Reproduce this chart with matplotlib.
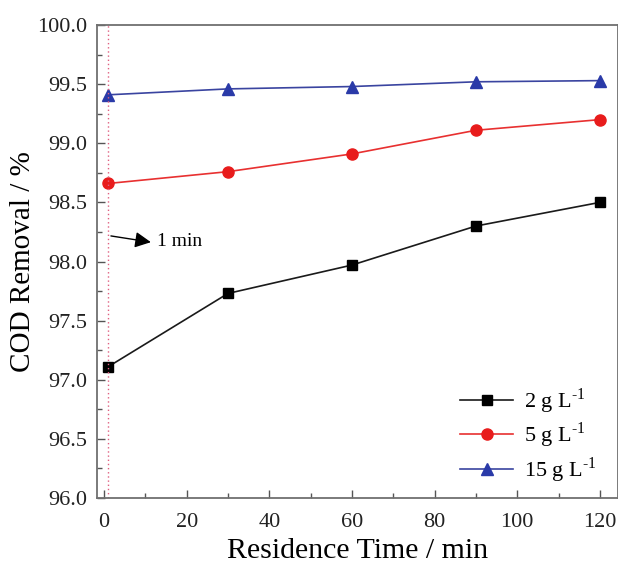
import numpy as np
import matplotlib.pyplot as plt

plt.rcParams['font.family'] = ['Liberation Serif', 'DejaVu Serif']
plt.rcParams['mathtext.fontset'] = 'custom'
plt.rcParams['mathtext.rm'] = 'Liberation Serif'

# residence time (min) and COD removal (%) for each sludge concentration
time_min = [1, 30, 60, 90, 120]
cod_2 = [97.11, 97.73, 97.97, 98.30, 98.50]
cod_5 = [98.66, 98.76, 98.91, 99.11, 99.20]
cod_15 = [99.41, 99.46, 99.48, 99.52, 99.53]
labels = ['2 g L$^{\\text{-1}}$', '5 g L$^{\\text{-1}}$', '15 g L$^{\\text{-1}}$']

fig = plt.figure(figsize=(6.18, 5.63), dpi=100)
ax = fig.add_axes([0.157, 0.1155, 0.843, 0.840])

ax.plot(time_min, cod_2, '-s', color='#1a1a1a', mfc='black', mec='black', ms=7, lw=1.2, label=labels[0])
ax.plot(time_min, cod_5, '-o', color='#e83030', mfc='#e81c1c', mec='#e81c1c', ms=8, lw=1.2, label=labels[1])
ax.plot(time_min, cod_15, '-^', color='#3a44a0', mfc='#2a3aa8', mec='#2a3aa8', ms=8, lw=1.2, label=labels[2])

ax.axvline(1, color='#e06080', ls=(0, (1, 2)), lw=1.0)
ax.annotate('', xy=(12, 98.16), xytext=(1, 98.22),
            arrowprops=dict(arrowstyle='-|>', color='black', lw=1.0, mutation_scale=24))
ax.text(12.8, 98.17, '1 min', fontsize=14, va='center', ha='left')

ax.set_xlim(-1.7, 124.4)
ax.set_ylim(96.0, 100.0)
ax.set_xticks(np.arange(0, 121, 20))
ax.set_xticks(np.arange(10, 121, 20), minor=True)
ax.set_yticks(np.arange(96.0, 100.01, 0.5))
ax.set_yticks(np.arange(96.25, 100.0, 0.5), minor=True)
ax.set_yticklabels(['%.1f' % v for v in np.arange(96.0, 100.01, 0.5)])
ax.tick_params(direction='in', labelsize=16, length=6, width=1, pad=7,
               colors='#555555', labelcolor='#222222')
ax.tick_params(axis='x', pad=11)
ax.tick_params(which='minor', direction='in', length=3.5, width=1, colors='#555555')
for s in ax.spines.values():
    s.set_color('#707070')
    s.set_linewidth(1.3)

ax.set_xlabel('Residence Time / min', fontsize=21.5, labelpad=4)
ax.set_ylabel('COD Removal / %', fontsize=21, labelpad=1)

ax.legend(loc='lower right', frameon=False, fontsize=16, handlelength=2.4,
          handletextpad=0.5, borderaxespad=0.2, labelspacing=0.22,
          bbox_to_anchor=(0.985, 0.0))

fig.savefig('out.png', dpi=100)
